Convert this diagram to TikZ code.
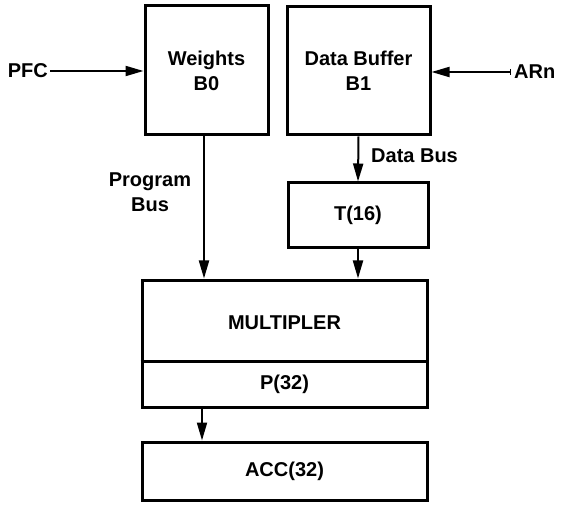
\documentclass[tikz,border=0pt]{standalone}
\usepackage{fontspec}
\setmainfont{Liberation Sans}
\usetikzlibrary{arrows.meta}
\tikzset{
  blk/.style={draw=black, line width=3pt, rectangle, inner sep=0pt, align=center, font=\fontsize{20}{25}\selectfont\bfseries},
  lbl/.style={inner sep=0pt, align=center, font=\fontsize{20}{25}\selectfont\bfseries},
  conn/.style={line width=2pt, -{Triangle[length=18pt,width=10pt]}},
}
\begin{document}
\begin{tikzpicture}[x=1pt,y=-1pt]
\useasboundingbox[fill=white] (0,0) rectangle (565,505);
\node[blk, minimum width=123pt, minimum height=129pt] (weights) at (206.5,70.5) {Weights\\B0};
\node[blk, minimum width=143pt, minimum height=128pt] (dbuf) at (358.5,71) {Data Buffer\\B1};
\node[blk, minimum width=140pt, minimum height=65pt] (t16) at (358,215.5) {T(16)};
\node[blk, minimum width=285pt, minimum height=127pt] (mult) at (284.5,343.5) {};
\node[lbl] (multtxt) at (284.5,323) {MULTIPLER};
\node[lbl] (p32) at (284.5,384) {P(32)};
\node[blk, minimum width=285pt, minimum height=58pt] (acc) at (284.5,471) {ACC(32)};
\draw[line width=3pt] (mult.west |- 0,361) -- (mult.east |- 0,361);
\node[lbl, anchor=east] (pfc) at (48,71) {PFC};
\node[lbl, anchor=west] (arn) at (514,72) {ARn};
\node[lbl, anchor=west] (dbus) at (371,156) {Data Bus};
\node[lbl] (pbus) at (150,192) {Program\\Bus};
\coordinate (pbx) at (204,0);
\coordinate (pax) at (202,0);
\draw[conn] ([xshift=2pt]pfc.east) -- (weights.west |- pfc.east);
\draw[line width=2pt, {Bar[width=6pt,line width=1pt]}-{Triangle[length=18pt,width=10pt]}] ([xshift=-3pt]arn.west) -- (dbuf.east |- arn.west);
\draw[conn] (weights.south -| pbx) -- (mult.north -| pbx);
\draw[conn] (dbuf.south) -- (t16.north);
\draw[conn] (t16.south) -- (mult.north -| t16.south);
\draw[conn] (mult.south -| pax) -- (acc.north -| pax);
\end{tikzpicture}
\end{document}
